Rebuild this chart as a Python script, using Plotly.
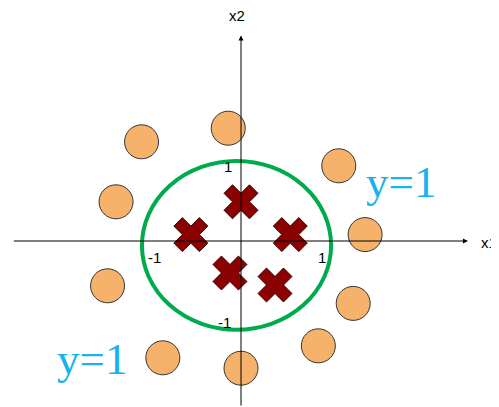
import plotly.graph_objects as go

# Data (in axis units)
circle_x = [-0.15, -1.17, 1.15, -1.47, 1.46, -1.57, 1.32, 0.91, -0.92, 0.0]
circle_y = [1.41, 1.24, 0.94, 0.49, 0.08, -0.56, -0.78, -1.31, -1.46, -1.59]
cross_x = [0.0, -0.59, 0.58, -0.13, 0.40]
cross_y = [0.49, 0.08, 0.08, -0.40, -0.55]
boundary = {"x0": -1.165, "x1": 1.06, "y0": -1.11, "y1": 1.0}
tick_labels = ["-1", "1", "1", "-1"]
labels_y = ["y=1", "y=1"]

W, H = 491, 399  # page has an 8px body margin
OX, OY = 233, 233
XR = [-OX / 85, (W - OX) / 85]
YR = [-(H - OY) / 80, OY / 80]

fig = go.Figure()
fig.add_trace(go.Scatter(
    x=circle_x, y=circle_y, mode="markers",
    marker=dict(symbol="circle", size=34, color="#F6B26B",
                line=dict(color="#333333", width=1)),
    hoverinfo="skip"))
fig.add_trace(go.Scatter(
    x=cross_x, y=cross_y, mode="markers",
    marker=dict(symbol="x", size=30, color="#8B0000",
                line=dict(color="#3a0000", width=1)),
    hoverinfo="skip"))

fig.add_shape(type="circle", xref="x", yref="y", layer="below",
              line=dict(color="#00AB4E", width=4), **boundary)

# Axes with arrows
fig.add_annotation(x=2.67, y=0, ax=-2.69, ay=0, xref="x", yref="y", axref="x", ayref="y",
                   showarrow=True, arrowhead=2, arrowsize=1, arrowwidth=1, arrowcolor="#000", text="")
fig.add_annotation(x=0, y=2.57, ax=0, ay=YR[0], xref="x", yref="y", axref="x", ayref="y",
                   showarrow=True, arrowhead=2, arrowsize=1, arrowwidth=1, arrowcolor="#000", text="")

tf = dict(family="Liberation Sans, Arial", size=15, color="#000")
fig.add_annotation(x=2.81, y=-0.02, text="x1", showarrow=False, xanchor="left",
                   borderpad=0, font=tf)
fig.add_annotation(x=-0.05, y=2.82, text="x2", showarrow=False, font=tf)
fig.add_annotation(x=-1.02, y=-0.2, text=tick_labels[0], showarrow=False, font=tf)
fig.add_annotation(x=0.95, y=-0.2, text=tick_labels[1], showarrow=False, font=tf)
fig.add_annotation(x=-0.15, y=0.93, text=tick_labels[2], showarrow=False, font=tf)
fig.add_annotation(x=-0.19, y=-1.02, text=tick_labels[3], showarrow=False, font=tf)

bf = dict(family="Liberation Serif, Times New Roman", size=45, color="#1AB2EC")
fig.add_annotation(x=1.88, y=0.74, text=labels_y[0], showarrow=False, font=bf)
fig.add_annotation(x=-1.75, y=-1.47, text=labels_y[1], showarrow=False, font=bf)

fig.update_layout(
    width=W, height=H, margin=dict(l=0, r=0, t=0, b=0),
    paper_bgcolor="white", plot_bgcolor="white", showlegend=False,
    xaxis=dict(range=XR, visible=False, fixedrange=True),
    yaxis=dict(range=YR, visible=False, fixedrange=True),
)
fig.write_html("out.html")
